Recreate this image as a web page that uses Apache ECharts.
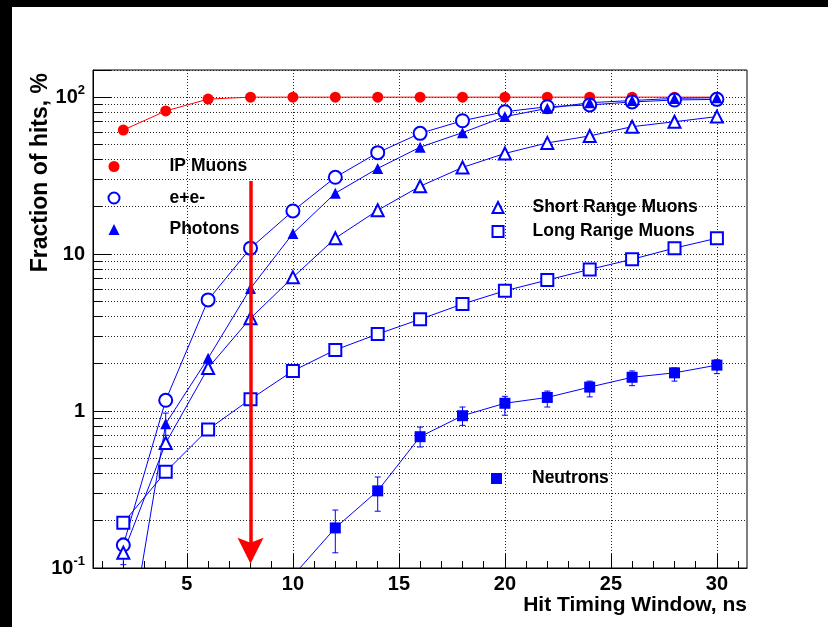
<!DOCTYPE html>
<html>
<head>
<meta charset="utf-8">
<script src="https://cdn.jsdelivr.net/npm/echarts@6/dist/echarts.min.js"></script>
<style>
  html, body { margin: 0; padding: 0; background: #000; width: 828px; height: 627px; overflow: hidden; }
  #chart { position: absolute; left: 12px; top: 7px; width: 816px; height: 620px; background: #fff; }
</style>
</head>
<body>
<div id="chart"></div>
<script>
// hit timing window, ns
var timeWindow = [2, 4, 6, 8, 10, 12, 14, 16, 18, 20, 22, 24, 26, 28, 30];
var ipMuons = [61.6, 81.5, 97, 99.8, 99.8, 99.8, 99.8, 99.8, 99.8, 99.8, 99.8, 99.8, 99.8, 99.8, 99.8];
var eePairs = [0.14, 1.17, 5.1, 10.9, 18.8, 30.8, 44.2, 58.7, 70.6, 80.6, 86.7, 89, 93, 95.7, 96.6];
var photons = [0.02, 0.83, 2.17, 6.04, 13.5, 24.4, 35.1, 47.9, 59.3, 75, 84.7, 92, 95, 98, 99];
var shortRange = [0.125, 0.625, 1.88, 3.9, 7.1, 12.6, 19, 27, 35.6, 43.7, 51, 56.5, 64.7, 69.6, 75];
var longRange = [0.194, 0.41, 0.763, 1.19, 1.8, 2.45, 3.09, 3.84, 4.8, 5.83, 6.82, 7.98, 9.25, 10.9, 12.6];

var neutronWindow = [10, 12, 14, 16, 18, 20, 22, 24, 26, 28, 30];
var neutrons = [0.089, 0.18, 0.31, 0.686, 0.933, 1.12, 1.22, 1.42, 1.64, 1.75, 1.96];
var neutronLow = [0.085, 0.125, 0.23, 0.59, 0.81, 0.94, 1.06, 1.23, 1.45, 1.55, 1.73];
var neutronHigh = [0.093, 0.234, 0.38, 0.79, 1.06, 1.24, 1.34, 1.55, 1.8, 1.88, 2.12];

// a few other visible error bars: [x, low, high]
var otherErrors = [[2, 0.105, 0.155], [4, 0.70, 0.97]];

var xLabels = [5, 10, 15, 20, 25, 30];
var xMinorTicks = [1, 2, 3, 4, 6, 7, 8, 9, 11, 12, 13, 14, 16, 17, 18, 19, 21, 22, 23, 24, 26, 27, 28, 29, 31];
var yMinorTicks = [0.2, 0.3, 0.4, 0.5, 0.6, 0.7, 0.8, 0.9, 2, 3, 4, 5, 6, 7, 8, 9, 20, 30, 40, 50, 60, 70, 80, 90];

// red arrow at 8 ns
var arrowX = 8;
var arrowTop = 29.2;
var arrowEnd = 0.129;

var xMin = 0.57, xMax = 31.42;
var yMin = 0.1, yMax = 148.6;

var font = "'Liberation Sans', Arial, sans-serif";
var blue = '#0000ff';
var red = '#ff0000';

function pairs(xs, ys) {
  return xs.map(function (x, i) { return [x, ys[i]]; });
}

function decadeLabel(v) {
  var l = Math.log10(v);
  var e = Math.round(l);
  if (Math.abs(l - e) > 1e-6) return '';
  if (e === 0) return '{b|1}';
  if (e === 1) return '{b|10}';
  return '{b|10}{s|' + e + '}';
}

var errorData = neutronWindow.map(function (x, i) { return [x, neutronLow[i], neutronHigh[i]]; })
  .slice(1).concat(otherErrors);

function lineSeries(name, ys, symbol, size, color) {
  return {
    name: name,
    type: 'line',
    data: pairs(timeWindow, ys),
    symbol: symbol,
    symbolSize: size,
    itemStyle: { color: color, borderWidth: 1.2 },
    lineStyle: { color: color, width: 1 },
    z: 4
  };
}

var legendText = { fontFamily: font, fontSize: 17.5, fontWeight: 'bold', color: '#000' };

var chart = echarts.init(document.getElementById('chart'));

chart.setOption({
  animation: false,
  backgroundColor: '#fff',
  grid: {
    left: 81, top: 63, width: 654, height: 498,
    show: true, borderColor: '#000', borderWidth: 1, backgroundColor: 'transparent',
    outerBoundsMode: 'none'
  },
  legend: [{
    data: [{ name: 'IP Muons', icon: 'circle' }, { name: 'e+e-', icon: 'emptyCircle' }, { name: 'Photons', icon: 'triangle' }],
    orient: 'vertical', left: 95.5, top: 150.5, itemGap: 13.5, padding: 0,
    itemWidth: 11, itemHeight: 11, selectedMode: false,
    textStyle: Object.assign({ padding: [0, 0, 0, 45] }, legendText)
  }, {
    data: [{ name: 'Short Range Muons', icon: 'emptyTriangle' }, { name: 'Long Range Muons', icon: 'emptyRect' }],
    orient: 'vertical', left: 479.5, top: 191.5, itemGap: 6, padding: 0,
    itemWidth: 11, itemHeight: 11, selectedMode: false,
    textStyle: Object.assign({ padding: [0, 0, 0, 24] }, legendText)
  }, {
    data: [{ name: 'Neutrons', icon: 'rect' }],
    orient: 'vertical', left: 479, top: 462.5, padding: 0,
    itemWidth: 11, itemHeight: 11, selectedMode: false,
    textStyle: Object.assign({ padding: [0, 0, 0, 25] }, legendText)
  }],
  xAxis: [{
    type: 'value', min: xMin, max: xMax, position: 'bottom',
    name: 'Hit Timing Window, ns', nameLocation: 'end', nameGap: 0, nameMoveOverlap: false,
    nameTextStyle: { fontFamily: font, fontSize: 21, fontWeight: 'bold', color: '#000', align: 'right', verticalAlign: 'top', padding: [27, 0, 0, 0] },
    axisLine: { show: true, lineStyle: { color: '#000', width: 1 } },
    axisTick: { show: true, inside: true, length: 14, customValues: xLabels, lineStyle: { color: '#000' } },
    axisLabel: { customValues: xLabels, margin: 6, fontFamily: font, fontSize: 20, fontWeight: 'bold', color: '#000' },
    splitLine: { show: true, lineStyle: { color: '#222', type: [1, 2], width: 1 } }
  }, {
    type: 'value', min: xMin, max: xMax, position: 'bottom',
    axisLine: { show: false },
    axisTick: { show: true, inside: true, length: 7, customValues: xMinorTicks, lineStyle: { color: '#000' } },
    axisLabel: { show: false },
    splitLine: { show: false }
  }],
  yAxis: [{
    type: 'log', logBase: 10, min: yMin, max: yMax, position: 'left',
    name: 'Fraction of hits, %', nameLocation: 'end', nameRotate: 90, nameGap: -3, nameMoveOverlap: false,
    nameTextStyle: { fontFamily: font, fontSize: 23, fontWeight: 'bold', color: '#000', align: 'right', verticalAlign: 'bottom', padding: [0, 0, 41, 0] },
    axisLine: { show: true, lineStyle: { color: '#000', width: 1 } },
    axisTick: { show: true, inside: true, length: 18, lineStyle: { color: '#000' } },
    axisLabel: {
      margin: 8, formatter: decadeLabel, color: '#000',
      rich: {
        b: { fontFamily: font, fontSize: 20, fontWeight: 'bold', color: '#000', lineHeight: 26 },
        s: { fontFamily: font, fontSize: 13, fontWeight: 'bold', color: '#000', verticalAlign: 'top' }
      }
    },
    splitLine: { show: true, lineStyle: { color: '#222', type: [1, 2], width: 1 } }
  }, {
    type: 'log', logBase: 10, min: yMin, max: yMax, position: 'left',
    axisLine: { show: false },
    axisTick: { show: true, inside: true, length: 9, customValues: yMinorTicks, lineStyle: { color: '#000' } },
    axisLabel: { show: false },
    splitLine: { show: true, lineStyle: { color: '#222', type: [1, 2], width: 1 } }
  }],
  series: [
    lineSeries('IP Muons', ipMuons, 'circle', 11, red),
    lineSeries('e+e-', eePairs, 'emptyCircle', 13, blue),
    lineSeries('Photons', photons, 'triangle', 11, blue),
    lineSeries('Short Range Muons', shortRange, 'emptyTriangle', 12, blue),
    lineSeries('Long Range Muons', longRange, 'emptyRect', 12, blue),
    {
      name: 'Neutrons', type: 'line', data: pairs(neutronWindow, neutrons),
      symbol: 'rect', symbolSize: 11,
      itemStyle: { color: blue }, lineStyle: { color: blue, width: 1 }, z: 4
    },
    {
      name: 'errors', type: 'custom', data: errorData, z: 3,
      encode: { x: 0, y: [1, 2] },
      renderItem: function (params, api) {
        var x = api.value(0);
        var lo = api.coord([x, api.value(1)]);
        var hi = api.coord([x, api.value(2)]);
        var st = { stroke: blue, lineWidth: 1 };
        return {
          type: 'group',
          children: [
            { type: 'line', shape: { x1: lo[0], y1: lo[1], x2: hi[0], y2: hi[1] }, style: st },
            { type: 'line', shape: { x1: lo[0] - 3, y1: lo[1], x2: lo[0] + 3, y2: lo[1] }, style: st },
            { type: 'line', shape: { x1: hi[0] - 3, y1: hi[1], x2: hi[0] + 3, y2: hi[1] }, style: st }
          ]
        };
      }
    },
    {
      name: 'arrow', type: 'line', data: [], z: 5,
      markLine: {
        silent: true, animation: false,
        symbol: ['none', 'path://M11,0 L22,30 L11,24 L0,30 Z'],
        symbolSize: 26,
        label: { show: false },
        lineStyle: { color: red, width: 3.5, type: 'solid' },
        itemStyle: { color: red },
        data: [[{ coord: [arrowX, arrowTop] }, { coord: [arrowX, arrowEnd] }]]
      }
    }
  ]
});
</script>
</body>
</html>
